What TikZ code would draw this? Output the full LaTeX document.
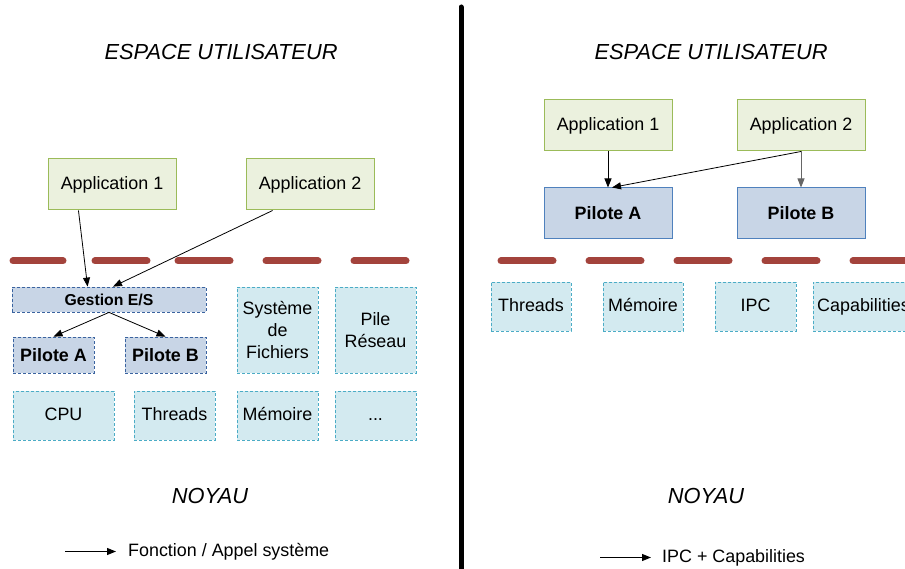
\documentclass[tikz,border=0pt]{standalone}
\usepackage{fontspec}
\setmainfont{Liberation Sans}
\usetikzlibrary{arrows.meta,calc}
\definecolor{appfill}{HTML}{EBF1DE}
\definecolor{appline}{HTML}{9BBB59}
\definecolor{drvfill}{HTML}{C8D5E6}
\definecolor{drvline}{HTML}{4F81BD}
\definecolor{drvdash}{HTML}{3A63A0}
\definecolor{kerfill}{HTML}{D3EAF0}
\definecolor{kerline}{HTML}{4BACC6}
\definecolor{bordred}{HTML}{A3433C}

\begin{document}
\begin{tikzpicture}[x=1pt, y=-1pt,
  txt/.style={font=\fontsize{17.9}{22}\selectfont},
  zone/.style={font=\fontsize{21.8}{24}\selectfont\itshape},
  appbox/.style={txt, draw=appline, fill=appfill, line width=1pt, minimum width=128pt, minimum height=51pt, inner sep=0pt},
  drvbox/.style={txt, font=\fontsize{17.9}{22}\selectfont\bfseries, fill=drvfill, inner sep=0pt},
  drvsolid/.style={drvbox, draw=drvline, line width=1pt},
  drvdashed/.style={drvbox, draw=drvdash, line width=0.8pt, dash pattern=on 3pt off 2pt},
  kerbox/.style={txt, fill=kerfill, draw=kerline, line width=0.8pt, dash pattern=on 3pt off 2pt, inner sep=0pt, align=center},
  oneline/.style={text height=13pt, text depth=3.5pt},
  call/.style={line width=0.8pt, -{Triangle[length=9pt,width=7pt]}},
  border/.style={bordred, line width=7pt, line cap=round}]
\useasboundingbox (0,0) rectangle (905,569);
\clip (0,0) rectangle (905,569);

% separation
\draw[black, line width=5pt, line cap=round] (461,7) -- (461,575);

% ---- gauche : noyau monolithique
\node[zone] (userL) at (221,52) {ESPACE UTILISATEUR};
\node[zone] (kernL) at (210,496) {NOYAU};

\node[appbox] (appLA) at (112,184.5) {Application 1};
\node[appbox] (appLB) at (310,184.5) {Application 2};

\foreach \a/\b in {13/63, 95/147, 178/230, 266/318, 354/406}
  \draw[border] (\a,261) -- (\b,261);

\node[drvdashed, font=\fontsize{15.8}{18}\selectfont\bfseries, minimum width=194pt, minimum height=25pt] (gesL) at (109,299.5) {Gestion E/S};
\node[drvdashed, minimum width=81pt, minimum height=36pt] (pilLA) at (53.5,355) {Pilote A};
\node[drvdashed, minimum width=81pt, minimum height=36pt] (pilLB) at (165.5,355) {Pilote B};
\node[kerbox, minimum width=81pt, minimum height=86pt] (fsL) at (277.5,330) {Système\\de\\Fichiers};
\node[kerbox, minimum width=81pt, minimum height=86pt] (netL) at (375.5,330) {Pile\\Réseau};
\node[kerbox, oneline, minimum width=101pt, minimum height=49pt] (cpuL) at (63.5,415.5) {CPU};
\node[kerbox, oneline, minimum width=81pt, minimum height=49pt] (thrL) at (174.5,415.5) {Threads};
\node[kerbox, oneline, minimum width=81pt, minimum height=49pt] (memL) at (277.5,415.5) {Mémoire};
\node[kerbox, oneline, minimum width=81pt, minimum height=49pt] (etcL) at (375.5,415.5) {...};

\draw[call] ($(appLA.south)!0.52!(appLA.south west)$) -- ($(gesL.north)!0.22!(gesL.north west)$);
\draw[call] ($(appLB.south)!0.58!(appLB.south west)$) -- ($(gesL.north)+(4,0)$);
\draw[call] (gesL.south) -- (pilLA.north);
\draw[call] (gesL.south) -- (pilLB.north);

\coordinate (legLA) at (65,551.5);
\coordinate (legLB) at (116,551.5);
\draw[call] (legLA) -- (legLB);
\node[txt, anchor=west, inner sep=0pt] (legLT) at (128,551.5) {Fonction / Appel système};

% ---- droite : micro-noyau
\node[zone] (userR) at (711,52) {ESPACE UTILISATEUR};
\node[zone] (kernR) at (706,496) {NOYAU};

\node[appbox] (appRA) at (608,125.5) {Application 1};
\node[appbox] (appRB) at (801,125.5) {Application 2};
\node[drvsolid, minimum width=128pt, minimum height=51pt] (pilRA) at (608,213.5) {Pilote A};
\node[drvsolid, minimum width=128pt, minimum height=51pt] (pilRB) at (801,213.5) {Pilote B};

\foreach \a in {501, 589, 677, 765, 853}
  \draw[border] (\a,261) -- (\a+52,261);

\node[kerbox, oneline, minimum width=80pt, minimum height=49pt] (thrR) at (531,306.5) {Threads};
\node[kerbox, oneline, minimum width=80pt, minimum height=49pt] (memR) at (643,306.5) {Mémoire};
\node[kerbox, oneline, minimum width=81pt, minimum height=49pt] (ipcR) at (755.5,306.5) {IPC};
\node[kerbox, oneline, minimum width=101pt, minimum height=49pt] (capR) at (863.5,306.5) {Capabilities};

\draw[call] (appRA.south) -- (pilRA.north);
\draw[call] (appRB.south) -- ($(pilRA.north)+(4,0)$);
\draw[call, draw=gray!80!black] (appRB.south) -- (pilRB.north);

\coordinate (legRA) at (600,557.5);
\coordinate (legRB) at (651,557.5);
\draw[call] (legRA) -- (legRB);
\node[txt, anchor=west, inner sep=0pt] (legRT) at (662,557.5) {IPC + Capabilities};
\end{tikzpicture}
\end{document}
